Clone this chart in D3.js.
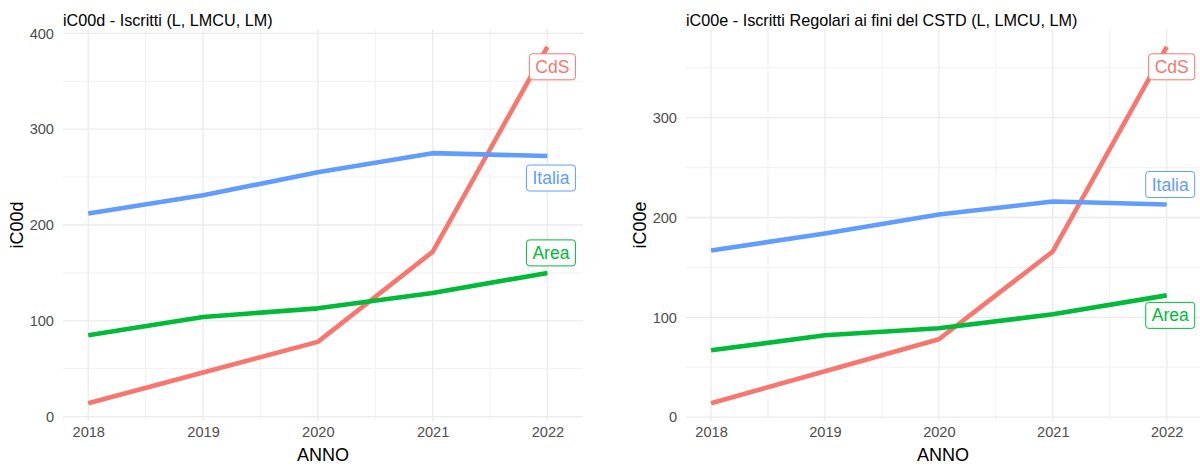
<!DOCTYPE html>
<html>
<head>
<meta charset="utf-8">
<script src="https://cdn.jsdelivr.net/npm/d3@7"></script>
<style>
  body { margin: 0; background: #fff; }
  text { font-family: "Liberation Sans", Arial, sans-serif; }
</style>
</head>
<body>
<div id="chart"></div>
<script>
// data
var years = [2018, 2019, 2020, 2021, 2022];
var seriesNames = ["CdS", "Area", "Italia"];
var seriesColors = ["#F8766D", "#00BA38", "#619CFF"];

// iC00d - Iscritti
var cdsD = [14, 46, 78, 172, 386];
var areaD = [85, 104, 113, 129, 150];
var italiaD = [212, 231, 255, 275, 272];

// iC00e - Iscritti Regolari
var cdsE = [14, 46, 78, 166, 371];
var areaE = [67, 82, 89, 103, 122];
var italiaE = [167, 184, 203, 216, 213];

var panelTitles = ["iC00d - Iscritti (L, LMCU, LM)", "iC00e - Iscritti Regolari ai fini del CSTD (L, LMCU, LM)"];
var yTitles = ["iC00d", "iC00e"];
var xTitle = "ANNO";

// panel layout (pixels)
var W = 1200, H = 466;
var panels = [
  { x0: 63, x1: 583, values: [cdsD, areaD, italiaD], labelDy: [20, -20, 22] },
  { x0: 686, x1: 1202, values: [cdsE, areaE, italiaE], labelDy: [20, 20, -20] }
];
var plotTop = 29, plotBottom = 421;

var svg = d3.select("#chart").append("svg")
    .attr("width", W)
    .attr("height", H);

panels.forEach(function(p, pi) {
  var g = svg.append("g");

  var x = d3.scaleLinear().domain([2017.78, 2022.31]).range([p.x0, p.x1]);

  // ggplot style 5% expansion
  var all = d3.merge(p.values);
  var lo = d3.min(all), hi = d3.max(all), pad = (hi - lo) * 0.05;
  var y = d3.scaleLinear().domain([lo - pad, hi + pad]).range([plotBottom, plotTop]);

  var majorY = d3.range(0, y.domain()[1], 100);
  var minorY = d3.range(50, y.domain()[1], 100);
  var minorX = years.slice(0, -1).map(function(d) { return d + 0.5; });

  // minor grid
  g.selectAll(".minor-y").data(minorY).enter().append("line")
      .attr("x1", p.x0).attr("x2", p.x1)
      .attr("y1", function(d) { return y(d); }).attr("y2", function(d) { return y(d); })
      .style("stroke", "#efefef").style("stroke-width", 0.9);
  g.selectAll(".minor-x").data(minorX).enter().append("line")
      .attr("x1", function(d) { return x(d); }).attr("x2", function(d) { return x(d); })
      .attr("y1", plotTop).attr("y2", plotBottom)
      .style("stroke", "#efefef").style("stroke-width", 0.9);

  // major grid
  g.selectAll(".major-y").data(majorY).enter().append("line")
      .attr("x1", p.x0).attr("x2", p.x1)
      .attr("y1", function(d) { return y(d); }).attr("y2", function(d) { return y(d); })
      .style("stroke", "#ebebeb").style("stroke-width", 1.3);
  g.selectAll(".major-x").data(years).enter().append("line")
      .attr("x1", function(d) { return x(d); }).attr("x2", function(d) { return x(d); })
      .attr("y1", plotTop).attr("y2", plotBottom)
      .style("stroke", "#ebebeb").style("stroke-width", 1.3);

  // axes (labels only, no domain / ticks)
  var xAxis = g.append("g")
      .attr("transform", "translate(0," + plotBottom + ")")
      .call(d3.axisBottom(x).tickValues(years).tickFormat(d3.format("d")).tickSize(0).tickPadding(6));
  var yAxis = g.append("g")
      .attr("transform", "translate(" + p.x0 + ",0)")
      .call(d3.axisLeft(y).tickValues(majorY).tickSize(0).tickPadding(9));
  [xAxis, yAxis].forEach(function(a) {
    a.select(".domain").remove();
    a.selectAll("text")
      .style("font-family", "'Liberation Sans', Arial, sans-serif")
      .style("font-size", "14.6px")
      .style("fill", "#4d4d4d");
  });

  // lines
  var line = d3.line()
      .x(function(d, i) { return x(years[i]); })
      .y(function(d) { return y(d); });
  p.values.forEach(function(vals, si) {
    g.append("path")
      .datum(vals)
      .attr("d", line)
      .style("fill", "none")
      .style("stroke", seriesColors[si])
      .style("stroke-width", 4.6)
      .style("stroke-linejoin", "round");
  });

  // end labels (boxes)
  p.values.forEach(function(vals, si) {
    var last = vals[vals.length - 1];
    var cy = y(last) + p.labelDy[si];
    var right = x(years[years.length - 1]) + 28;
    var lg = g.append("g");
    var t = lg.append("text")
      .text(seriesNames[si])
      .attr("y", cy + 6)
      .style("font-size", "17.5px")
      .style("fill", seriesColors[si]);
    var tw = t.node().getComputedTextLength();
    var bw = tw + 12;
    t.attr("x", right - bw + 6);
    lg.insert("rect", "text")
      .attr("x", right - bw)
      .attr("y", cy - 13)
      .attr("width", bw)
      .attr("height", 26)
      .attr("rx", 3)
      .style("fill", "#fff")
      .style("stroke", seriesColors[si])
      .style("stroke-width", 1);
  });

  // titles
  g.append("text")
    .attr("x", p.x0)
    .attr("y", 26)
    .text(panelTitles[pi])
    .style("font-size", "16.2px")
    .style("fill", "#000");

  g.append("text")
    .attr("x", (p.x0 + Math.min(p.x1, W)) / 2)
    .attr("y", 461)
    .attr("text-anchor", "middle")
    .text(xTitle)
    .style("font-size", "18px")
    .style("fill", "#000");

  g.append("text")
    .attr("transform", "translate(" + (p.x0 - 40) + "," + ((plotTop + plotBottom) / 2) + ") rotate(-90)")
    .attr("text-anchor", "middle")
    .text(yTitles[pi])
    .style("font-size", "18px")
    .style("fill", "#000");
});
</script>
</body>
</html>
